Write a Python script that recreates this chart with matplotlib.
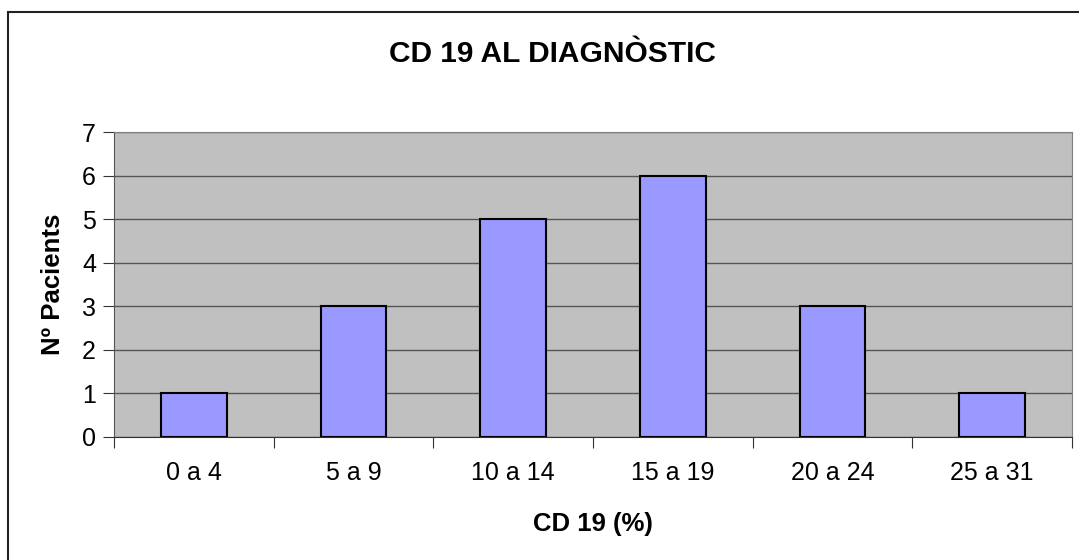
import matplotlib.pyplot as plt
from matplotlib.patches import Rectangle

plt.rcParams['font.family'] = ['Liberation Sans', 'DejaVu Sans']

categories = ['0 a 4', '5 a 9', '10 a 14', '15 a 19', '20 a 24', '25 a 31']
patients = [1, 3, 5, 6, 3, 1]

fig = plt.figure(figsize=(10.79, 5.6), dpi=100)
ax = fig.add_axes([114 / 1079, 123 / 560, 958 / 1079, 305 / 560])

# frame around the whole chart (runs off the right and bottom edges)
fig.patches.append(Rectangle((8 / 1079, -0.05), 1.1, 1 - 12 / 560 + 0.05,
                             transform=fig.transFigure, fill=False,
                             edgecolor='#222222', linewidth=1.5))

ax.set_facecolor('#C0C0C0')
x = range(len(categories))
ax.bar(x, patients, width=0.41, color='#9999FF', edgecolor='black',
       linewidth=1.5, zorder=3)

ax.set_xlim(-0.5, len(categories) - 0.5)
ax.set_ylim(0, 7)
ax.set_yticks(range(8))
ax.yaxis.grid(True, color='#555555', linewidth=1, zorder=1)

# category labels between boundary ticks
ax.set_xticks([i - 0.5 for i in range(len(categories) + 1)])
ax.set_xticklabels([])
ax.set_xticks(list(x), minor=True)
ax.set_xticklabels(categories, minor=True)
ax.tick_params(axis='x', which='major', length=8, direction='out', color='#333333')
ax.tick_params(axis='x', which='minor', length=0, pad=17, labelsize=18)
ax.tick_params(axis='y', length=8, color='#333333', labelsize=18, pad=5)

for side in ['top', 'right', 'left']:
    ax.spines[side].set_color('#808080')
ax.spines['bottom'].set_color('#333333')
ax.spines['left'].set_color('#555555')

ax.set_xlabel('CD 19 (%)', fontsize=18.5, fontweight='bold', labelpad=20)
ax.set_ylabel('Nº Pacients', fontsize=18.5, fontweight='bold', labelpad=12)
fig.text(552 / 1079, 1 - 54 / 560, 'CD 19 AL DIAGNÒSTIC', ha='center',
         va='center', fontsize=21.5, fontweight='bold')

fig.savefig('out.png', dpi=100)
